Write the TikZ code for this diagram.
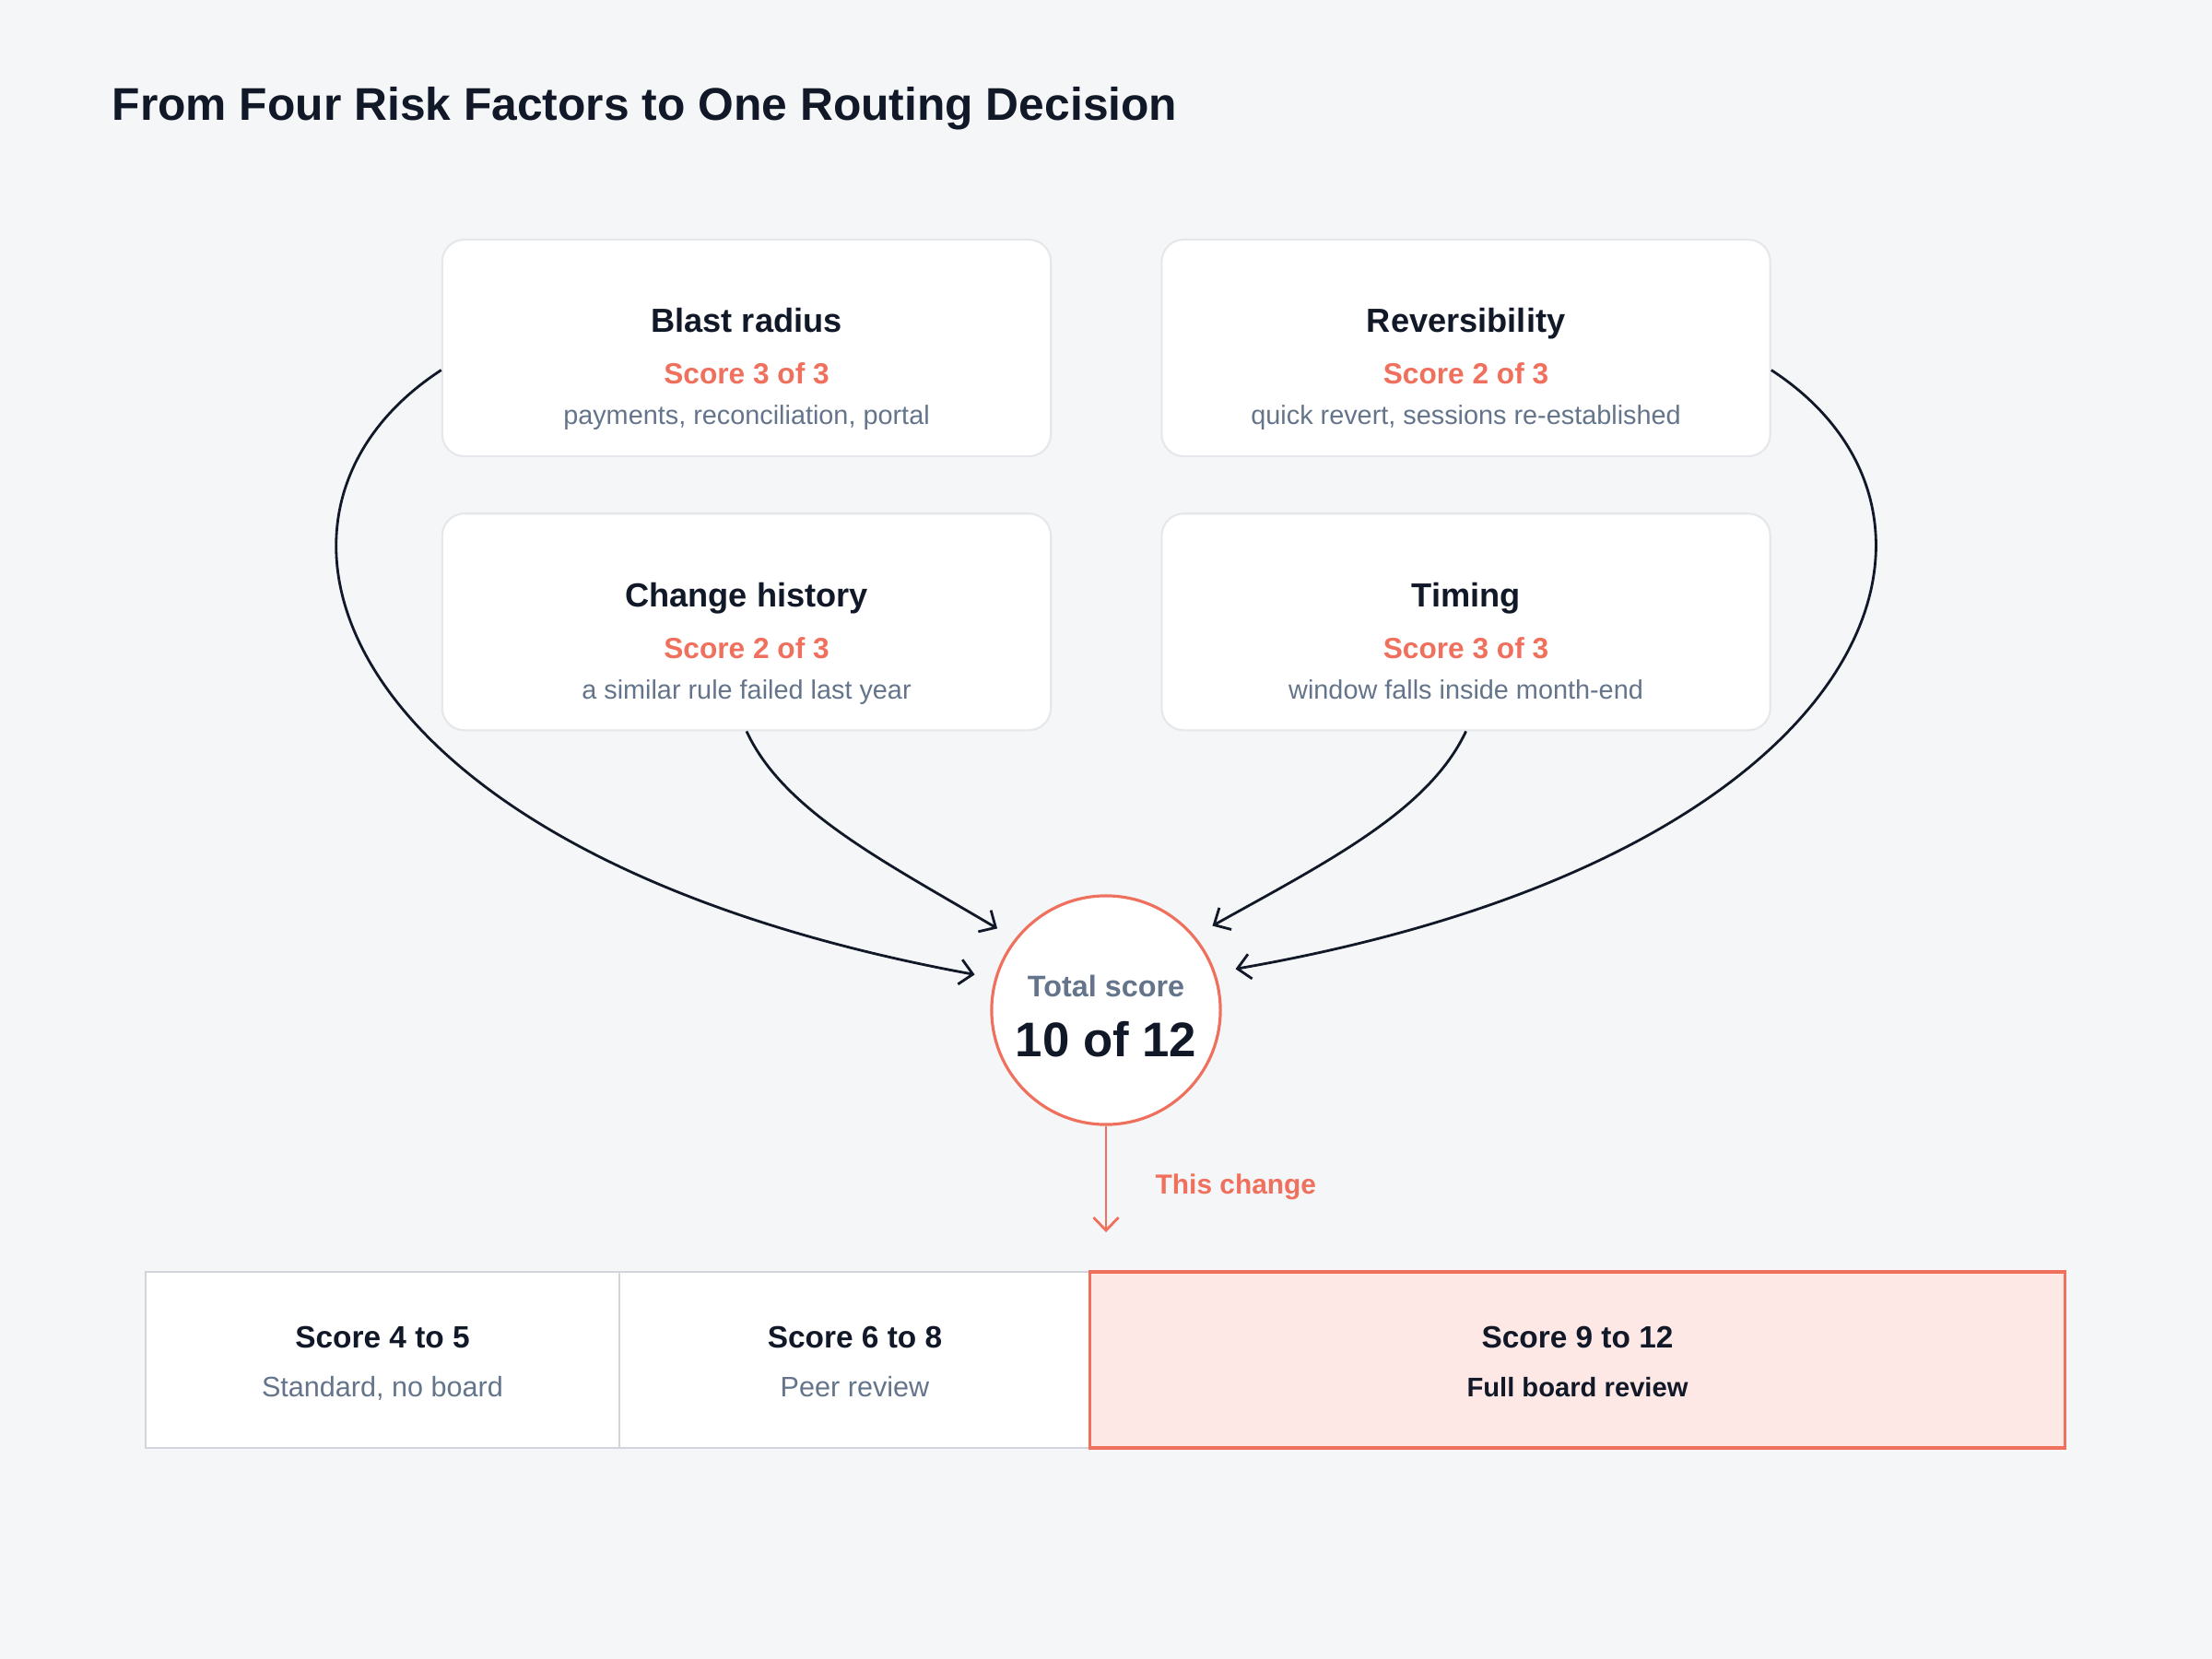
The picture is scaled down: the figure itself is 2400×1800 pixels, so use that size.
\documentclass[tikz,border=0pt]{standalone}
\usepackage{fontspec}
\setmainfont{Liberation Sans}
\usetikzlibrary{positioning}
\usetikzlibrary{arrows.meta}
\usetikzlibrary{calc}
\definecolor{ink}{RGB}{17,24,39}
\definecolor{coral}{RGB}{240,112,94}
\definecolor{slate}{RGB}{100,116,139}
\definecolor{paper}{RGB}{245,246,248}
\definecolor{cardline}{RGB}{229,231,235}
\definecolor{barline}{RGB}{209,213,219}
\definecolor{blush}{RGB}{253,232,230}

\begin{document}
\begin{tikzpicture}[x=0.01cm, y=-0.01cm, >={Straight Barb[length=1.4mm,width=2.7mm]},
  card/.style={rectangle, rounded corners=0.24cm, fill=white, draw=cardline, line width=0.6pt, minimum width=6.6cm, minimum height=2.35cm, inner sep=0pt},
  head/.style={anchor=base, text=ink, font=\fontsize{10.3pt}{12pt}\selectfont\bfseries},
  scoretxt/.style={anchor=base, text=coral, font=\fontsize{9pt}{11pt}\selectfont\bfseries},
  desctxt/.style={anchor=base, text=slate, font=\fontsize{8.2pt}{10pt}\selectfont},
  flow/.style={->, draw=ink, line width=0.8pt, shorten >=0.22cm},
  cell/.style={rectangle, fill=white, draw=barline, line width=0.6pt, minimum height=1.91cm, inner sep=0pt},
  bandhead/.style={anchor=base, text=ink, font=\fontsize{9.5pt}{11pt}\selectfont\bfseries},
  bandsub/.style={anchor=base, text=slate, font=\fontsize{8.7pt}{10pt}\selectfont}]

\fill[paper] (0,0) rectangle (2400,1800);

\node[anchor=base west, inner sep=0pt, text=ink, font=\fontsize{14.15pt}{17pt}\selectfont\bfseries] (title) at (121,130) {From Four Risk Factors to One Routing Decision};

% factor cards
\node[card] (blast) at (810,377.5) {};
\node[card, right=1.18cm of blast] (revers) {};
\node[card, below=0.6cm of blast] (history) {};
\node[card, below=0.6cm of revers] (timing) {};

\node[head] (blast-h) at ([yshift=-1.02cm]blast.north) {Blast radius};
\node[scoretxt] (blast-s) at ([yshift=-1.58cm]blast.north) {Score 3 of 3};
\node[desctxt] (blast-d) at ([yshift=-2.02cm]blast.north) {payments, reconciliation, portal};

\node[head] (revers-h) at ([yshift=-1.02cm]revers.north) {Reversibility};
\node[scoretxt] (revers-s) at ([yshift=-1.58cm]revers.north) {Score 2 of 3};
\node[desctxt] (revers-d) at ([yshift=-2.02cm]revers.north) {quick revert, sessions re-established};

\node[head] (history-h) at ([yshift=-1.02cm]history.north) {Change history};
\node[scoretxt] (history-s) at ([yshift=-1.58cm]history.north) {Score 2 of 3};
\node[desctxt] (history-d) at ([yshift=-2.02cm]history.north) {a similar rule failed last year};

\node[head] (timing-h) at ([yshift=-1.02cm]timing.north) {Timing};
\node[scoretxt] (timing-s) at ([yshift=-1.58cm]timing.north) {Score 3 of 3};
\node[desctxt] (timing-d) at ([yshift=-2.02cm]timing.north) {window falls inside month-end};

% total
\node[circle, draw=coral, line width=0.9pt, fill=white, minimum size=2.48cm, inner sep=0pt] (total) at (1200,1096) {};
\node[anchor=base, text=slate, font=\fontsize{9.2pt}{11pt}\selectfont\bfseries] (total-l) at ([yshift=0.143cm]total.center) {Total score};
\node[anchor=base, text=ink, font=\fontsize{15pt}{18pt}\selectfont\bfseries] (total-v) at ([yshift=-0.507cm]total.center) {10 of 12};

% curves into the total
\draw[flow] ([yshift=-0.24cm]blast.west) .. controls (235,560) and (362,930) .. (total.164);
\draw[flow] ([yshift=-0.24cm]revers.east) .. controls (2165,560) and (2038,930) .. (total.19);
\draw[flow] (history.south) .. controls (850,880) and (960,935) .. (total.142);
\draw[flow] (timing.south) .. controls (1550,880) and (1440,935) .. (total.40);

\coordinate (pick) at (1200,1337);
\draw[->, draw=coral, line width=0.8pt] (total) -- (pick);
\node[anchor=base west, inner sep=0pt, text=coral, font=\fontsize{8.5pt}{10pt}\selectfont\bfseries] (pick-l) at (1253,1295) {This change};

% routing bands
\node[cell, minimum width=5.14cm] (low) at (415,1475.5) {};
\node[cell, minimum width=5.11cm] (mid) at (927.5,1475.5) {};
\node[cell, minimum width=10.57cm, fill=blush, draw=coral, line width=0.9pt] (high) at (1711.5,1475.5) {};

\node[bandhead] (low-h) at ([yshift=0.13cm]low.center) {Score 4 to 5};
\node[bandsub] (low-s) at ([yshift=-0.395cm]low.center) {Standard, no board};
\node[bandhead] (mid-h) at ([yshift=0.13cm]mid.center) {Score 6 to 8};
\node[bandsub] (mid-s) at ([yshift=-0.395cm]mid.center) {Peer review};
\node[bandhead] (high-h) at ([yshift=0.13cm]high.center) {Score 9 to 12};
\node[bandsub, text=ink, font=\fontsize{8.3pt}{10pt}\selectfont\bfseries] (high-s) at ([yshift=-0.395cm]high.center) {Full board review};

\end{tikzpicture}
\end{document}
